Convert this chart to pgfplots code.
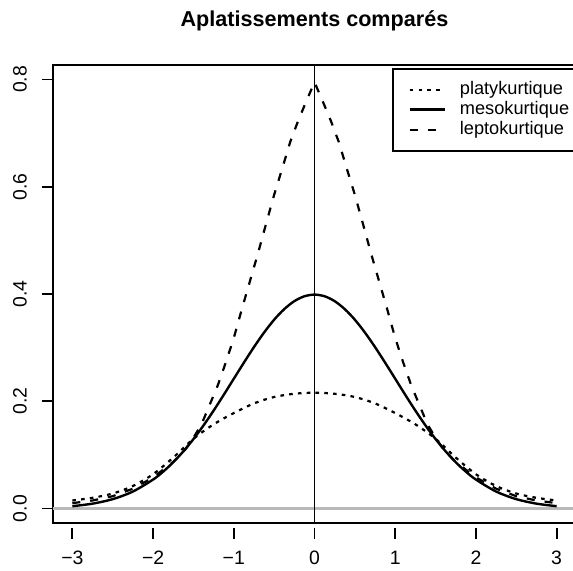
\documentclass[border=0pt]{standalone}
\usepackage{fontspec}
\setmainfont{Liberation Sans}
\usepackage{pgfplots}
\pgfplotsset{compat=1.18}

% densities
\pgfplotstableread{
x y
-3.00 0.015
-2.75 0.020
-2.50 0.028
-2.25 0.042
-2.00 0.064
-1.75 0.095
-1.50 0.130
-1.25 0.157
-1.00 0.178
-0.75 0.196
-0.50 0.208
-0.25 0.214
0.00 0.216
0.25 0.214
0.50 0.208
0.75 0.196
1.00 0.178
1.25 0.157
1.50 0.130
1.75 0.095
2.00 0.064
2.25 0.042
2.50 0.028
2.75 0.020
3.00 0.015
}\platy
\pgfplotstableread{
x y
-3.000 0.0044
-2.750 0.0091
-2.500 0.0175
-2.250 0.0317
-2.000 0.0540
-1.875 0.0688
-1.750 0.0863
-1.625 0.1066
-1.500 0.1295
-1.375 0.1550
-1.250 0.1826
-1.125 0.2119
-1.000 0.2420
-0.875 0.2720
-0.750 0.3011
-0.625 0.3281
-0.500 0.3521
-0.375 0.3718
-0.250 0.3867
-0.125 0.3958
0.000 0.3989
0.125 0.3958
0.250 0.3867
0.375 0.3718
0.500 0.3521
0.625 0.3281
0.750 0.3011
0.875 0.2720
1.000 0.2420
1.125 0.2119
1.250 0.1826
1.375 0.1550
1.500 0.1295
1.625 0.1066
1.750 0.0863
1.875 0.0688
2.000 0.0540
2.250 0.0317
2.500 0.0175
2.750 0.0091
3.000 0.0044
}\meso
\pgfplotstableread{
x y
-3.00 0.010
-2.75 0.015
-2.50 0.023
-2.25 0.037
-2.00 0.058
-1.75 0.087
-1.60 0.110
-1.50 0.132
-1.40 0.157
-1.30 0.193
-1.20 0.229
-1.10 0.272
-1.00 0.318
-0.90 0.372
-0.80 0.424
-0.70 0.476
-0.60 0.531
-0.50 0.585
-0.40 0.634
-0.30 0.684
-0.20 0.724
-0.10 0.760
0.00 0.795
0.10 0.760
0.20 0.724
0.30 0.684
0.40 0.634
0.50 0.585
0.60 0.531
0.70 0.476
0.80 0.424
0.90 0.372
1.00 0.318
1.10 0.272
1.20 0.229
1.30 0.193
1.40 0.157
1.50 0.132
1.60 0.110
1.75 0.087
2.00 0.058
2.25 0.037
2.50 0.023
2.75 0.015
3.00 0.010
}\lepto

\begin{document}
\begin{tikzpicture}
\begin{axis}[
    scale only axis,
    width=261.5pt,
    height=229pt,
    font=\fontsize{9.7}{11}\selectfont,
    xmin=-3.24,xmax=3.24,
    ymin=-0.027,ymax=0.827,
    xtick={-3,-2,-1,0,1,2,3},
    xticklabels={−3,−2,−1,0,1,2,3},
    ytick={0,0.2,0.4,0.6,0.8},
    yticklabels={0.0,0.2,0.4,0.6,0.8},
    xtick pos=bottom,
    ytick pos=left,
    axis line style={line width=1pt},
    tick align=outside,
    major tick length=5.5pt,
    tick style={black,line width=0.9pt},
    xtick style={yshift=-2.5pt},
    yticklabel style={xshift=-4pt,rotate=90,anchor=south},
    xticklabel style={anchor=north,yshift=-5pt},
    title={Aplatissements comparés},
    title style={font=\bfseries\fontsize{10.8}{12}\selectfont,anchor=center,at={(0.5,1)},yshift=16pt},
    legend cell align=left,
    legend image code/.code={\draw[#1] (0pt,0pt) -- (17.5pt,0pt);},
    legend style={at={(axis cs:0.954,0.822)},anchor=north west,
        draw=black,line width=1pt,inner xsep=8pt,inner ysep=5.5pt,
        column sep=6pt,font=\fontsize{9.1}{11}\selectfont,
        nodes={inner sep=1pt,text height=6.5pt,text depth=1.5pt,line width=1.1pt}},
]
\addplot[gray!55,line width=1.4pt,forget plot] coordinates {(-3.24,0) (3.24,0)};
\addplot[black,line width=0.6pt,forget plot] coordinates {(0,-0.027) (0,0.827)};
\addplot[black,line width=1.1pt,dash pattern=on 1.8pt off 2.6pt,smooth] table {\platy};
\addplot[black,line width=1.2pt,smooth] table {\meso};
\addplot[black,line width=1.1pt,dash pattern=on 4pt off 5pt] table {\lepto};
\legend{platykurtique,mesokurtique,leptokurtique}
\coordinate (SW) at (rel axis cs:0,0);
\end{axis}
\pgfresetboundingbox
\path[use as bounding box] (SW) ++(-26.5pt,-23.5pt) rectangle ++(286.5pt,285pt);
\end{tikzpicture}
\end{document}
